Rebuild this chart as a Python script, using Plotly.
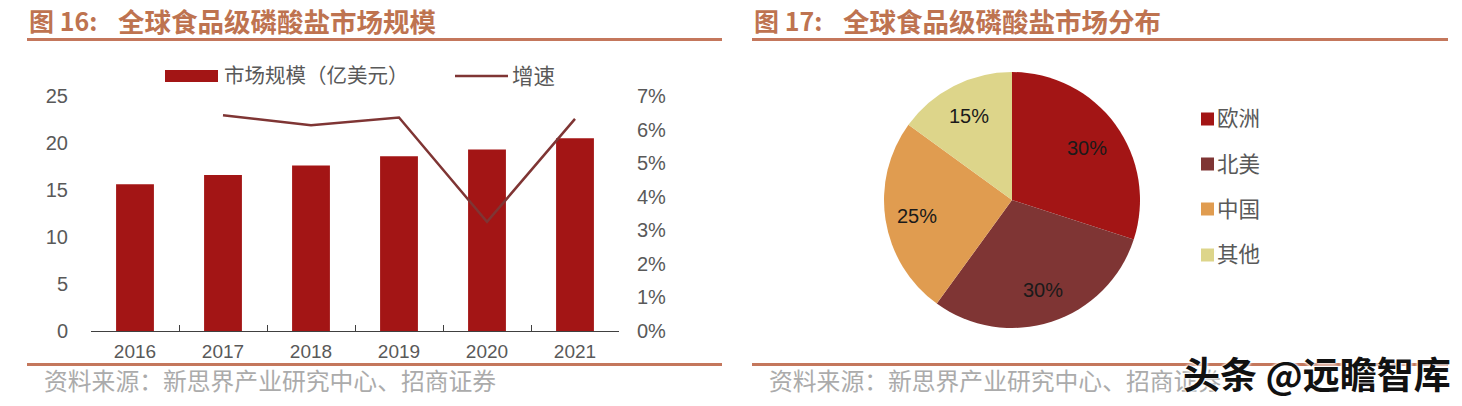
import plotly.graph_objects as go

W, H = 1462, 406

######## data
years = ["2016", "2017", "2018", "2019", "2020", "2021"]
market_size = [15.6, 16.6, 17.6, 18.6, 19.3, 20.5]
growth = [None, 0.0643, 0.0613, 0.0636, 0.0325, 0.0632]
regions = ["欧洲", "北美", "中国", "其他"]
region_share = [30, 30, 25, 15]
region_colors = ["#A31515", "#7F3534", "#E09C50", "#DDD58A"]
##############################

TITLE_C = "#BE7350"
RULE_C = "#C4775C"
TICK_C = "#595959"
FOOT_C = "#ABABAB"
CJK = "Noto Sans CJK SC"
ARIAL = "Liberation Sans"


def px(x):
    return x / W


def py(y):
    return 1 - y / H


fig = go.Figure()

fig.add_trace(go.Bar(x=years, y=market_size, marker=dict(color="#A31515", line_width=0),
                     width=0.43, name="市场规模（亿美元）", showlegend=False))
fig.add_trace(go.Scatter(x=years, y=growth, yaxis="y2", mode="lines",
                         line=dict(color="#7F3534", width=2.5), name="增速", showlegend=False))
fig.add_trace(go.Pie(labels=regions, values=region_share, sort=False, direction="clockwise", rotation=0,
                     marker=dict(colors=region_colors, line_width=0),
                     textinfo="none", showlegend=False,
                     domain=dict(x=[px(1012 - 128), px(1012 + 128)], y=[py(328), py(72)])))

shapes = []
for x0, x1 in [(27, 722), (752, 1448)]:
    for y in [39.5, 364.5]:
        shapes.append(dict(type="line", xref="paper", yref="paper", x0=px(x0), x1=px(x1), y0=py(y), y1=py(y),
                           line=dict(color=RULE_C, width=3)))

# legend of the left chart
shapes.append(dict(type="rect", xref="paper", yref="paper", x0=px(165), x1=px(218), y0=py(82), y1=py(70),
                   fillcolor="#A31515", line_width=0))
shapes.append(dict(type="line", xref="paper", yref="paper", x0=px(455), x1=px(508), y0=py(76), y1=py(76),
                   line=dict(color="#7F3534", width=2.5)))

annotations = []


def add_text(text, x, y, size, color, family=CJK, anchor="left", **kw):
    annotations.append(dict(text=text, x=px(x), y=py(y), xref="paper", yref="paper", showarrow=False,
                            xanchor=anchor, yanchor="middle", font=dict(family=family, size=size, color=color, **kw)))


add_text("<b>图 16:</b>", 27, 20, 25, TITLE_C)
add_text("<b>全球食品级磷酸盐市场规模</b>", 116, 20, 26.5, TITLE_C)
add_text("<b>图 17:</b>", 752, 20, 25, TITLE_C)
add_text("<b>全球食品级磷酸盐市场分布</b>", 841, 20, 26.5, TITLE_C)
add_text("资料来源：新思界产业研究中心、招商证券", 42, 379, 23.8, FOOT_C)
add_text("资料来源：新思界产业研究中心、招商证券", 767, 379, 23.8, FOOT_C)

add_text("市场规模（亿美元）", 222, 74, 20.5, TICK_C)
add_text("增速", 510, 74, 21.5, TICK_C)

# pie labels sit further out than plotly's inside text, so placed by hand
pie_label_xy = [(1087, 148), (1043, 290), (917, 216), (969, 116)]
for share, (x, y) in zip(region_share, pie_label_xy):
    add_text(f"{share}%", x, y, 20, "#1A1A1A", family=ARIAL, anchor="center")

# legend of the pie
legend_y = [119, 164, 209, 255]
for name, color, y in zip(regions, region_colors, legend_y):
    shapes.append(dict(type="rect", xref="paper", yref="paper", x0=px(1201), x1=px(1214), y0=py(y + 6.5), y1=py(y - 6.5),
                       fillcolor=color, line_width=0))
    add_text(name, 1215, y - 2, 21.5, TICK_C)

# watermark
add_text("<b>头条 @远瞻智库</b>", 1181, 373, 37, "#111111", shadow="0 0 3px #fff, 0 0 3px #fff, 0 0 3px #fff")

fig.update_layout(
    width=W, height=H, margin=dict(l=0, r=0, t=0, b=0),
    paper_bgcolor="white", plot_bgcolor="white", showlegend=False,
    shapes=shapes, annotations=annotations,
    xaxis=dict(domain=[px(91), px(619)], type="category", categoryorder="array", categoryarray=years,
               tickson="boundaries", ticks="inside", ticklen=6, tickcolor="#404040", tickwidth=1, automargin=False,
               showline=True, linecolor="#404040", linewidth=1, showgrid=False, ticklabelstandoff=3,
               tickfont=dict(family=ARIAL, size=19, color=TICK_C)),
    yaxis=dict(domain=[py(331), py(96)], range=[0, 25], dtick=5, showgrid=False, zeroline=False, automargin=False,
               ticks="", ticklabelstandoff=22, tickfont=dict(family=ARIAL, size=20, color=TICK_C)),
    yaxis2=dict(domain=[py(331), py(96)], range=[0, 0.07], dtick=0.01, tickformat=".0%", overlaying="y", side="right",
                showgrid=False, zeroline=False, ticks="", ticklabelstandoff=17, anchor="x", automargin=False,
                tickfont=dict(family=ARIAL, size=20, color=TICK_C)),
)

fig.write_html("out.html", config=dict(displayModeBar=False), post_script="document.body.style.margin='0';")
